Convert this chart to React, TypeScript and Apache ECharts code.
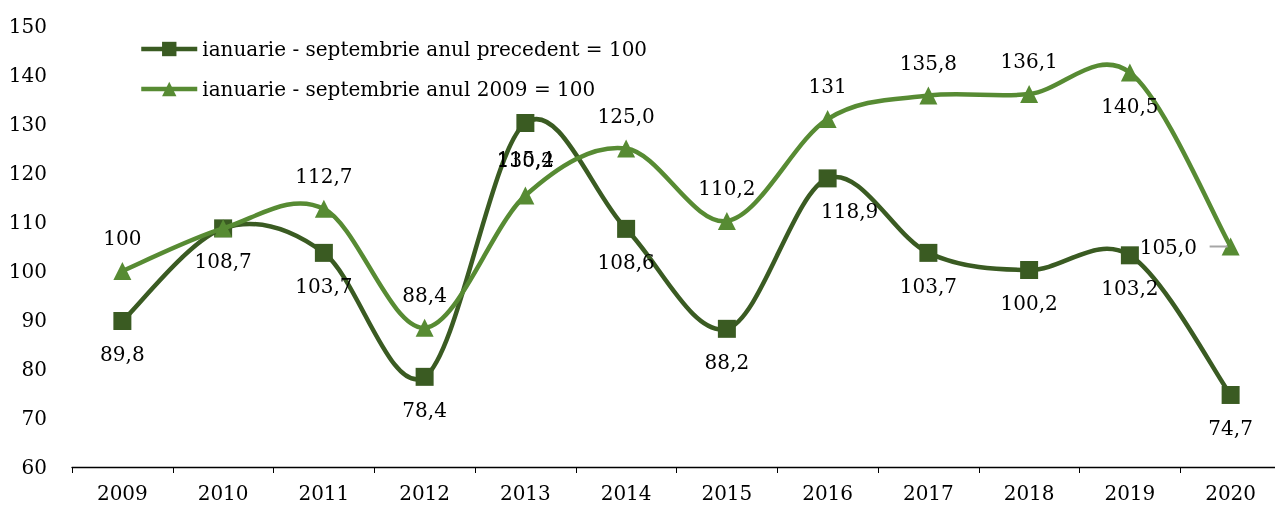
import React, { useEffect, useRef } from "react";
import * as echarts from "echarts";

const years = ["2009", "2010", "2011", "2012", "2013", "2014", "2015", "2016", "2017", "2018", "2019", "2020"];
const prevYearValues = [89.8, 108.7, 103.7, 78.4, 130.2, 108.6, 88.2, 118.9, 103.7, 100.2, 103.2, 74.7];
const prevYearLabels = ["89,8", "108,7", "103,7", "78,4", "130,2", "108,6", "88,2", "118,9", "103,7", "100,2", "103,2", "74,7"];
const base2009Values = [100, 108.7, 112.7, 88.4, 115.4, 125.0, 110.2, 131, 135.8, 136.1, 140.5, 105.0];
const base2009Labels = ["100", "108,7", "112,7", "88,4", "115,4", "125,0", "110,2", "131", "135,8", "136,1", "140,5", "105,0"];
const seriesNames = ["ianuarie - septembrie anul precedent = 100", "ianuarie - septembrie anul 2009 = 100"];

const FONT = "DejaVu Serif";
const FS = 20;
const C1 = "#3a5b22";
const C2 = "#578b33";
const LW = 4.5;

function makeCurve(vals: number[], color: string, z: number) {
  const n = vals.length;
  const clampIdx = (k: number) => Math.max(0, Math.min(n - 1, k));
  return {
    type: "custom",
    coordinateSystem: "cartesian2d",
    data: vals.map((v, i) => [i, v]),
    encode: { x: 0, y: 1 },
    silent: true,
    clip: false,
    z,
    renderItem: (params: any, api: any) => {
      const i = params.dataIndex;
      if (i >= n - 1) return { type: "group", children: [] };
      const p = (k: number) => {
        const j = clampIdx(k);
        return api.coord([j, vals[j]]);
      };
      const p0 = p(i - 1), p1 = p(i), p2 = p(i + 1), p3 = p(i + 2);
      const t = 1 / 6;
      return {
        type: "bezierCurve",
        shape: {
          x1: p1[0], y1: p1[1],
          x2: p2[0], y2: p2[1],
          cpx1: p1[0] + (p2[0] - p0[0]) * t,
          cpy1: p1[1] + (p2[1] - p0[1]) * t,
          cpx2: p2[0] - (p3[0] - p1[0]) * t,
          cpy2: p2[1] - (p3[1] - p1[1]) * t,
        },
        style: { stroke: color, lineWidth: LW, fill: "none", lineCap: "round" },
      };
    },
  };
}

export default function App() {
  const ref = useRef<HTMLDivElement>(null);
  useEffect(() => {
    const chart = echarts.init(ref.current!, null, { renderer: "svg" });
    const labelBase = { show: true, fontFamily: FONT, fontSize: FS, color: "#000", distance: 14 };
    const s1Data = prevYearValues.map((v, i) => {
      const lbl: any = { ...labelBase, position: "bottom", formatter: prevYearLabels[i] };
      if (i === 4) lbl.distance = 18;
      if (i === 7) { lbl.offset = [22, 0]; }
      return { value: v, label: lbl };
    });
    const s2Data = base2009Values.map((v, i) => {
      const lbl: any = { ...labelBase, position: "top", formatter: base2009Labels[i] };
      if (i === 1) lbl.show = false;
      if (i === 4) { lbl.distance = 18; }
      if (i === 10) { lbl.position = "bottom"; }
      if (i === 11) {
        lbl.position = "left";
        lbl.distance = -6;
        lbl.formatter = "{v|" + base2009Labels[i] + "}  {ln|}";
        lbl.rich = {
          v: { fontFamily: FONT, fontSize: FS, color: "#000" },
          ln: { width: 18, height: 2, backgroundColor: "#a6a6a6" },
        };
      }
      return { value: v, label: lbl };
    });
    chart.setOption({
      animation: false,
      grid: { left: 72, right: 4, top: 26, bottom: 39 },
      legend: {
        orient: "vertical",
        left: 134,
        top: 34,
        itemGap: 20,
        itemWidth: 56,
        itemHeight: 18,
        textStyle: { fontFamily: FONT, fontSize: FS, color: "#000" },
        data: [
          { name: seriesNames[0], lineStyle: { opacity: 1, width: LW, color: C1 } },
          { name: seriesNames[1], lineStyle: { opacity: 1, width: LW, color: C2 } },
        ],
      },
      xAxis: {
        type: "category",
        data: years,
        boundaryGap: true,
        axisLine: { lineStyle: { color: "#000", width: 1.3 } },
        axisTick: { show: true, length: 6, lineStyle: { color: "#000" } },
        axisLabel: { fontFamily: FONT, fontSize: FS, color: "#000", margin: 16 },
      },
      yAxis: {
        type: "value",
        min: 60,
        max: 150,
        interval: 10,
        axisLine: { show: false },
        axisTick: { show: false },
        splitLine: { show: false },
        axisLabel: { fontFamily: FONT, fontSize: FS, color: "#000", margin: 25 },
      },
      series: [
        makeCurve(prevYearValues, C1, 1),
        {
          name: seriesNames[0],
          type: "line",
          symbol: "rect",
          symbolSize: 18,
          lineStyle: { color: C1, width: LW, opacity: 0 },
          itemStyle: { color: C1 },
          data: s1Data,
          z: 2,
        },
        makeCurve(base2009Values, C2, 3),
        {
          name: seriesNames[1],
          type: "line",
          symbol: "triangle",
          symbolSize: 18,
          lineStyle: { color: C2, width: LW, opacity: 0 },
          itemStyle: { color: C2 },
          data: s2Data,
          z: 4,
        },
      ],
    });
    return () => chart.dispose();
  }, []);
  return <div ref={ref} style={{ position: "fixed", left: 0, top: 0, width: 1285, height: 506 }} />;
}
